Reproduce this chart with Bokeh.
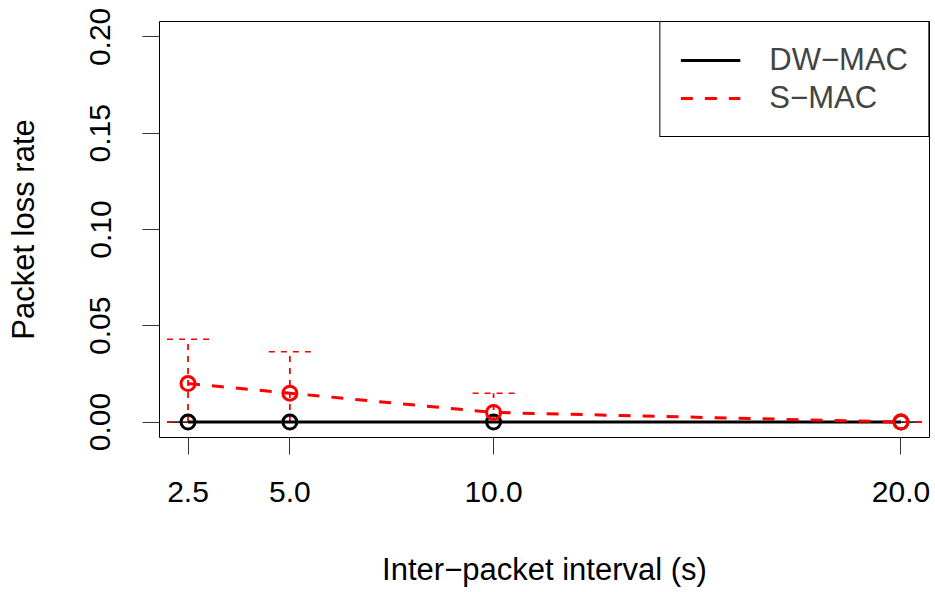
from bokeh.plotting import figure
from bokeh.models import (ColumnDataSource, Range1d, FixedTicker, NumeralTickFormatter,
                          Whisker, TeeHead, Legend, LegendItem)
from bokeh.embed import file_html
from bokeh.resources import INLINE

# ---- data ----
intervals = [2.5, 5.0, 10.0, 20.0]
dw_mean = [0.0, 0.0, 0.0, 0.0]
dw_upper = [0.0, 0.0, 0.0, 0.0]
dw_lower = [0.0, 0.0, 0.0, 0.0]
s_mean = [0.020, 0.015, 0.005, 0.0]
s_upper = [0.043, 0.0365, 0.015, 0.0]
s_lower = [0.0, 0.0, 0.0, 0.0]
x_ticks = [2.5, 5.0, 10.0, 20.0]
y_ticks = [0.0, 0.05, 0.10, 0.15, 0.20]
series_names = ["DW\u2212MAC", "S\u2212MAC"]
x_title = "Inter\u2212packet interval (s)"
y_title = "Packet loss rate"

FONT = "Liberation Sans"

dw = ColumnDataSource(dict(x=intervals, y=dw_mean, up=dw_upper, lo=dw_lower))
sm = ColumnDataSource(dict(x=intervals, y=s_mean, up=s_upper, lo=s_lower))

W, H = 935, 592
p = figure(width=W, height=H, output_backend="svg", toolbar_location=None,
           x_range=Range1d(1.8, 20.7), y_range=Range1d(-0.008, 0.208),
           min_border_left=159, min_border_right=W - 929, min_border_top=21,
           min_border_bottom=H - 437)
p.xgrid.visible = False
p.ygrid.visible = False
p.outline_line_color = "black"
p.outline_line_width = 1
p.outline_line_alpha = 1
p.background_fill_color = "white"
p.border_fill_color = "white"

for ax, ticks, fmt in ((p.xaxis[0], x_ticks, "0.0"), (p.yaxis[0], y_ticks, "0.00")):
    ax.ticker = FixedTicker(ticks=ticks)
    ax.formatter = NumeralTickFormatter(format=fmt)
    ax.axis_line_color = None
    ax.major_tick_in = 0
    ax.major_tick_out = 17
    ax.major_tick_line_color = "#333333"
    ax.minor_tick_out = 0
    ax.minor_tick_in = 0
    ax.major_label_text_font = FONT
    ax.major_label_text_font_size = "30px"
    ax.major_label_text_color = "black"
    ax.axis_label_text_font = FONT
    ax.axis_label_text_font_size = "31px"
    ax.axis_label_text_font_style = "normal"
    ax.axis_label_text_color = "black"

p.xaxis.axis_label = x_title
p.yaxis.axis_label = y_title
p.xaxis.major_label_standoff = 27
p.xaxis.axis_label_standoff = 47
p.yaxis.major_label_orientation = "vertical"
p.yaxis.major_label_standoff = 32
p.yaxis.axis_label_standoff = 47

# DW-MAC (black, solid)
dw_wh = Whisker(source=dw, base="x", upper="up", lower="lo", dimension="height",
                line_color="black", line_width=1,
                upper_head=TeeHead(size=42, line_color="black", line_width=1),
                lower_head=TeeHead(size=42, line_color="black", line_width=1))
p.add_layout(dw_wh)
dw_line = p.line("x", "y", source=dw, line_color="black", line_width=3)
p.scatter("x", "y", source=dw, size=14, fill_color=None, line_color="black", line_width=3)

# S-MAC (red, dashed)
sm_wh = Whisker(source=sm, base="x", upper="up", lower="lo", dimension="height",
                line_color="red", line_width=1.8, line_dash="6 6",
                upper_head=TeeHead(size=42, line_color="red", line_width=1.4, line_dash="6 6"),
                lower_head=TeeHead(size=42, line_color="red", line_width=1.4, line_dash="6 6"))
p.add_layout(sm_wh)
sm_line = p.line("x", "y", source=sm, line_color="red", line_width=3, line_dash="12 12")
p.scatter("x", "y", source=sm, size=14, fill_color=None, line_color="red", line_width=3)

legend = Legend(items=[LegendItem(label=series_names[0], renderers=[dw_line]),
                       LegendItem(label=series_names[1], renderers=[sm_line])],
                location="top_right", margin=0, padding=20, spacing=2,
                glyph_width=60, glyph_height=30, label_height=30, label_standoff=29,
                label_text_font=FONT, label_text_font_size="31px",
                border_line_color="black", border_line_width=1, border_line_alpha=1,
                background_fill_color="white", background_fill_alpha=1)
p.add_layout(legend)

open("out.html", "w").write(file_html(p, INLINE))
